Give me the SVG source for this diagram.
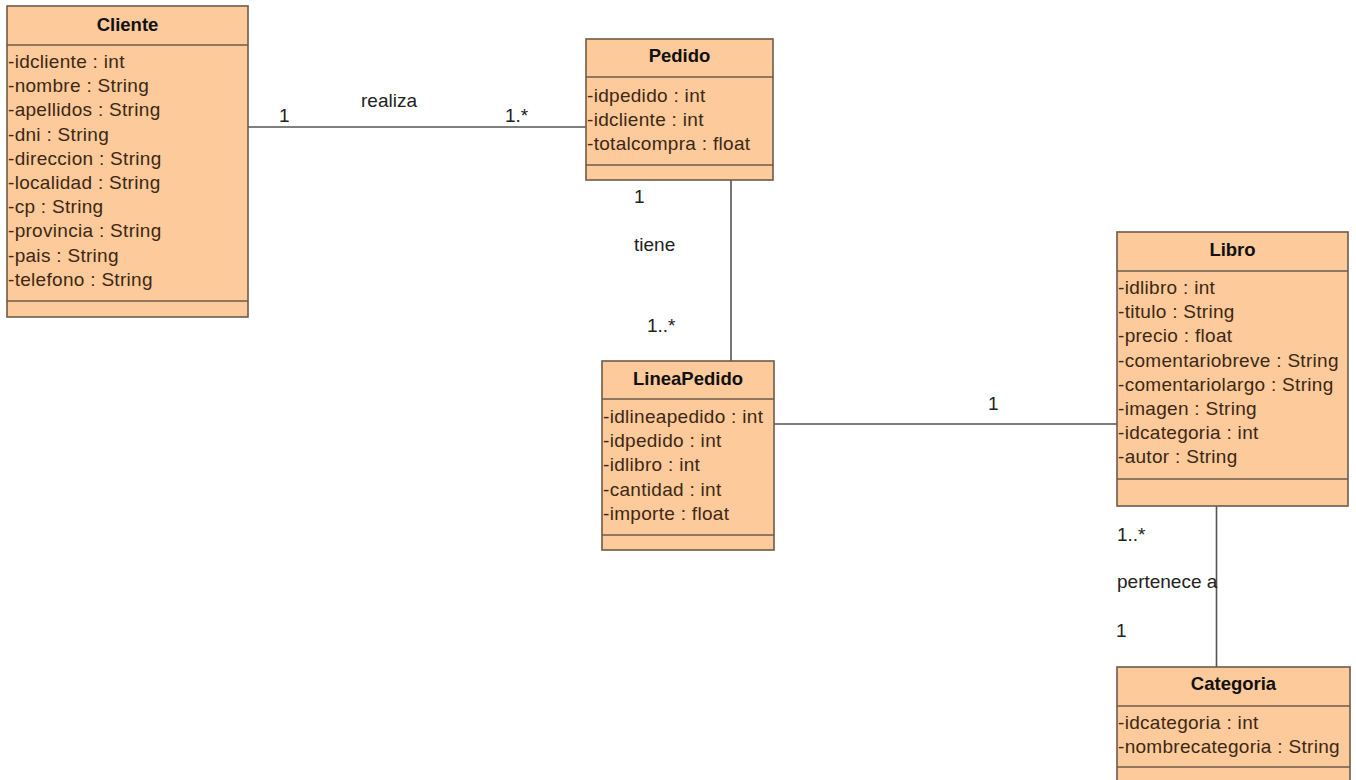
<svg xmlns="http://www.w3.org/2000/svg" width="1356" height="780" viewBox="0 0 1356 780">
  <style>
    .box { fill: #fdca9b; stroke: #6e5a48; stroke-width: 1.6; }
    .div { stroke: #6e5a48; stroke-width: 1.6; }
    .title { font-family: "Liberation Sans", Arial, sans-serif; font-size: 18.5px; font-weight: bold; fill: #111; text-anchor: middle; }
    .attr { font-family: "Liberation Sans", Arial, sans-serif; font-size: 19px; letter-spacing: 0.3px; fill: #3c2814; }
    .lbl { font-family: "Liberation Sans", Arial, sans-serif; font-size: 19px; fill: #222; }
    .conn { stroke: #555; stroke-width: 1.6; fill: none; }
  </style>
  <rect width="1356" height="780" fill="#ffffff"/>

  <!-- associations -->
  <g id="connectors">
    <line class="conn" x1="248" y1="127" x2="586" y2="127"/>
    <line class="conn" x1="731" y1="180" x2="731" y2="361"/>
    <line class="conn" x1="774" y1="424" x2="1117" y2="424"/>
    <line class="conn" x1="1216.5" y1="506" x2="1216.5" y2="667"/>
    <text class="lbl" x="279" y="122">1</text>
    <text class="lbl" x="361" y="107">realiza</text>
    <text class="lbl" x="505" y="122">1.*</text>
    <text class="lbl" x="634" y="202.5">1</text>
    <text class="lbl" x="634" y="250.5">tiene</text>
    <text class="lbl" x="647" y="331.5">1..*</text>
    <text class="lbl" x="988" y="410">1</text>
    <text class="lbl" x="1117" y="541">1..*</text>
    <text class="lbl" x="1117" y="588">pertenece a</text>
    <text class="lbl" x="1116" y="637">1</text>
  </g>

  <!-- Cliente -->
  <g id="cliente">
    <rect class="box" x="7" y="6" width="241" height="311"/>
    <line class="div" x1="7" y1="45" x2="248" y2="45"/>
    <line class="div" x1="7" y1="301" x2="248" y2="301"/>
    <text class="title" x="127.5" y="30.5">Cliente</text>
    <text class="attr" x="8" y="68">-idcliente : int</text>
    <text class="attr" x="8" y="92.2">-nombre : String</text>
    <text class="attr" x="8" y="116.4">-apellidos : String</text>
    <text class="attr" x="8" y="140.6">-dni : String</text>
    <text class="attr" x="8" y="164.8">-direccion : String</text>
    <text class="attr" x="8" y="189">-localidad : String</text>
    <text class="attr" x="8" y="213.2">-cp : String</text>
    <text class="attr" x="8" y="237.4">-provincia : String</text>
    <text class="attr" x="8" y="261.6">-pais : String</text>
    <text class="attr" x="8" y="285.8">-telefono : String</text>
  </g>

  <!-- Pedido -->
  <g id="pedido">
    <rect class="box" x="586" y="39" width="187" height="141"/>
    <line class="div" x1="586" y1="77" x2="773" y2="77"/>
    <line class="div" x1="586" y1="165" x2="773" y2="165"/>
    <text class="title" x="679.5" y="61.5">Pedido</text>
    <text class="attr" x="587" y="101.5">-idpedido : int</text>
    <text class="attr" x="587" y="125.5">-idcliente : int</text>
    <text class="attr" x="587" y="149.5">-totalcompra : float</text>
  </g>

  <!-- LineaPedido -->
  <g id="lineapedido">
    <rect class="box" x="602" y="361" width="172" height="189"/>
    <line class="div" x1="602" y1="399" x2="774" y2="399"/>
    <line class="div" x1="602" y1="535" x2="774" y2="535"/>
    <text class="title" x="688" y="384.5">LineaPedido</text>
    <text class="attr" x="603" y="423">-idlineapedido : int</text>
    <text class="attr" x="603" y="447.2">-idpedido : int</text>
    <text class="attr" x="603" y="471.4">-idlibro : int</text>
    <text class="attr" x="603" y="495.6">-cantidad : int</text>
    <text class="attr" x="603" y="519.8">-importe : float</text>
  </g>

  <!-- Libro -->
  <g id="libro">
    <rect class="box" x="1117" y="232" width="231" height="274"/>
    <line class="div" x1="1117" y1="271" x2="1348" y2="271"/>
    <line class="div" x1="1117" y1="479" x2="1348" y2="479"/>
    <text class="title" x="1232.5" y="255.5">Libro</text>
    <text class="attr" x="1118" y="294">-idlibro : int</text>
    <text class="attr" x="1118" y="318.2">-titulo : String</text>
    <text class="attr" x="1118" y="342.4">-precio : float</text>
    <text class="attr" x="1118" y="366.6">-comentariobreve : String</text>
    <text class="attr" x="1118" y="390.8">-comentariolargo : String</text>
    <text class="attr" x="1118" y="415">-imagen : String</text>
    <text class="attr" x="1118" y="439.2">-idcategoria : int</text>
    <text class="attr" x="1118" y="463.4">-autor : String</text>
  </g>

  <!-- Categoria -->
  <g id="categoria">
    <rect class="box" x="1117" y="667" width="233" height="130"/>
    <line class="div" x1="1117" y1="706" x2="1350" y2="706"/>
    <line class="div" x1="1117" y1="767" x2="1350" y2="767"/>
    <text class="title" x="1233.5" y="690">Categoria</text>
    <text class="attr" x="1118" y="729">-idcategoria : int</text>
    <text class="attr" x="1118" y="753.2">-nombrecategoria : String</text>
  </g>
</svg>
